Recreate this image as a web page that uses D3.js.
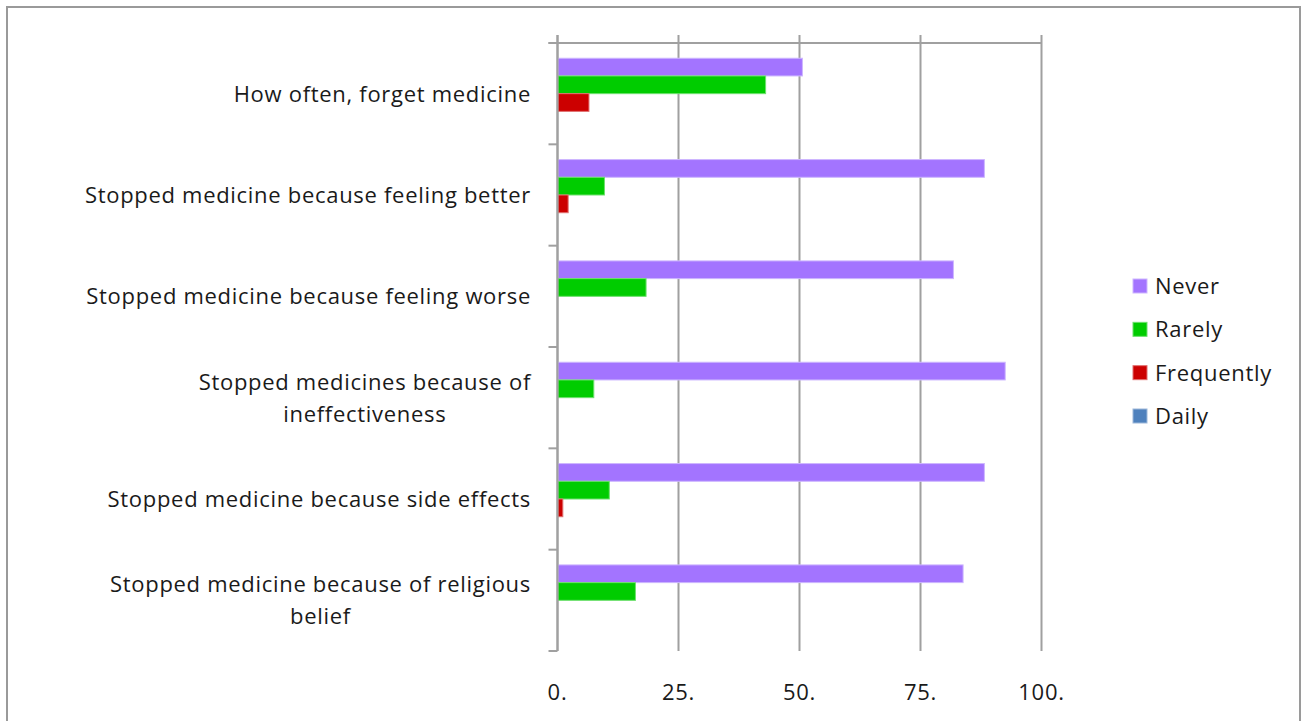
<!DOCTYPE html>
<html>
<head>
<meta charset="utf-8">
<script src="https://cdn.jsdelivr.net/npm/d3@7"></script>
<style>
  html, body { margin: 0; padding: 0; background: #fff; }
  svg { display: block; }
  text { font-family: "Open Sans", Lato, sans-serif; fill: #1a1a1a; letter-spacing: 0.7px; }
</style>
</head>
<body>
<svg id="chart" width="1304" height="721"></svg>
<script>
// ---- data ----
const categories = [
  "How often, forget medicine",
  "Stopped medicine because feeling better",
  "Stopped medicine because feeling worse",
  "Stopped medicines because of\nineffectiveness",
  "Stopped medicine because side effects",
  "Stopped medicine because of religious\nbelief"
];
const seriesNames = ["Never", "Rarely", "Frequently", "Daily"];
const neverValues      = [50.6, 88.2, 81.8, 92.5, 88.2, 83.8];
const rarelyValues     = [43.0,  9.7, 18.3,  7.5, 10.7, 16.1];
const frequentlyValues = [ 6.5,  2.2,  0.0,  0.0,  1.1,  0.0];
const dailyValues      = [ 0.0,  0.0,  0.0,  0.0,  0.0,  0.0];
const xTicks = [0, 25, 50, 75, 100];

const seriesValues = [neverValues, rarelyValues, frequentlyValues, dailyValues];
const fills   = ["#A374FF", "#00CC00", "#CC0000", "#4F81BD"];
const strokes = ["#CDB6FF", "#6EE06E", "#E07070", "#9DB8DA"];

const svg = d3.select("#chart");

// outer border
svg.append("rect").attr("x", 7).attr("y", 7).attr("width", 1293).attr("height", 740)
  .attr("fill", "#fff").attr("stroke", "#9a9a9a").attr("stroke-width", 2);

const plotTop = 43, plotBottom = 651;
const x = d3.scaleLinear().domain([0, 100]).range([557.5, 1041.5]);
const y = d3.scaleBand().domain(categories).range([plotTop, plotBottom]).padding(0);
const ys = d3.scaleBand().domain(seriesNames).range([0, y.bandwidth()]).paddingInner(0).paddingOuter(0.86);

const gridColor = "#a0a0a0";

// vertical gridlines (with small tick extension above)
svg.append("g").selectAll("line").data(xTicks).join("line")
  .attr("x1", d => x(d)).attr("x2", d => x(d))
  .attr("y1", plotTop - 8).attr("y2", plotBottom)
  .attr("stroke", gridColor).attr("stroke-width", 2);

// top axis line
svg.append("line").attr("x1", x(0) - 9).attr("x2", x(100))
  .attr("y1", plotTop).attr("y2", plotTop)
  .attr("stroke", gridColor).attr("stroke-width", 2);

// category tick marks at band boundaries
const boundaries = categories.map(c => y(c)).concat([plotBottom]);
svg.append("g").selectAll("line").data(boundaries).join("line")
  .attr("x1", x(0) - 9).attr("x2", x(0))
  .attr("y1", d => d).attr("y2", d => d)
  .attr("stroke", gridColor).attr("stroke-width", 2);

// x tick labels
svg.append("g").selectAll("text").data(xTicks).join("text")
  .attr("x", d => x(d)).attr("y", 700)
  .attr("text-anchor", "middle")
  .style("font-size", "22px")
  .text(d => d + ".");

// bars
const rows = [];
categories.forEach((c, i) => {
  seriesNames.forEach((s, j) => {
    rows.push({ cat: c, series: s, value: seriesValues[j][i], j });
  });
});
svg.append("g").selectAll("rect").data(rows.filter(d => d.value > 0)).join("rect")
  .attr("x", x(0) + 0.5)
  .attr("y", d => y(d.cat) + ys(d.series))
  .attr("width", d => x(d.value) - x(0) - 0.5)
  .attr("height", ys.bandwidth())
  .attr("fill", d => fills[d.j])
  .attr("stroke", d => strokes[d.j])
  .attr("stroke-width", 1);

// redraw axis line on top of bars' left edge
svg.append("line").attr("x1", x(0)).attr("x2", x(0))
  .attr("y1", plotTop - 8).attr("y2", plotBottom)
  .attr("stroke", gridColor).attr("stroke-width", 2);

// category labels
const labelRight = 531, lineH = 32;
const labelG = svg.append("g");
categories.forEach(c => {
  const lines = c.split("\n");
  const cy = y(c) + y.bandwidth() / 2;
  const t = labelG.append("text").style("font-size", "22px");
  lines.forEach((ln, k) => {
    t.append("tspan").attr("x", 0)
      .attr("y", cy + (k - (lines.length - 1) / 2) * lineH + 8)
      .text(ln);
  });
  let maxW = 0;
  t.selectAll("tspan").each(function () { maxW = Math.max(maxW, this.getComputedTextLength()); });
  t.attr("text-anchor", "middle");
  t.selectAll("tspan").attr("x", labelRight - maxW / 2);
});

// legend
const legend = svg.append("g");
const legendY = d3.scalePoint().domain(seriesNames).range([286, 416]);
seriesNames.forEach((s, j) => {
  legend.append("rect").attr("x", 1133).attr("y", legendY(s) - 7)
    .attr("width", 14).attr("height", 14)
    .attr("fill", fills[j]).attr("stroke", strokes[j]).attr("stroke-width", 1);
  legend.append("text").attr("x", 1155).attr("y", legendY(s) + 8)
    .style("font-size", "22px").text(s);
});
</script>
</body>
</html>
